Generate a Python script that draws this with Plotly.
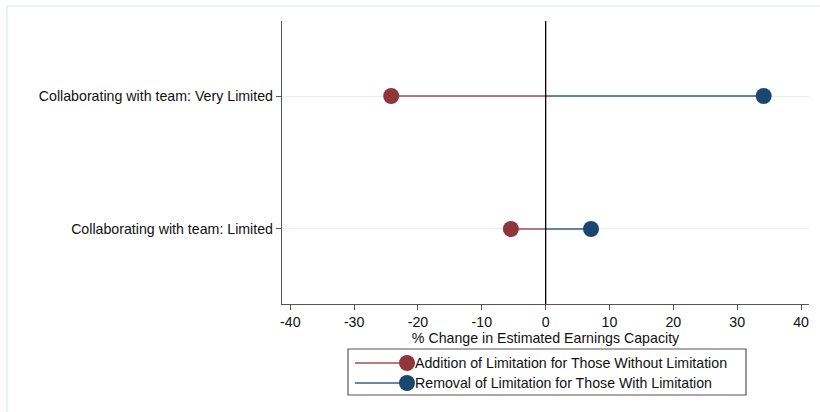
import plotly.graph_objects as go

categories = ["Collaborating with team: Limited", "Collaborating with team: Very Limited"]
addition_vals = [-5.45, -24.2]
removal_vals = [7.1, 34.15]
series_names = ["Addition of Limitation for Those Without Limitation",
                "Removal of Limitation for Those With Limitation"]
x_ticks = [-40, -30, -20, -10, 0, 10, 20, 30, 40]
x_ticktext = ["-40", "-30", "-20", "-10", "0", "10", "20", "30", "40"]

RED = "#90353B"
BLUE = "#1A476F"
RED_LINE = "rgba(144,53,59,0.65)"
BLUE_LINE = "rgba(26,71,111,0.65)"
FS = 14.2

ypos = list(range(1, len(categories) + 1))

fig = go.Figure()
for vals, lc, mc in [(addition_vals, RED_LINE, RED), (removal_vals, BLUE_LINE, BLUE)]:
    for y, v in zip(ypos, vals):
        fig.add_trace(go.Scatter(x=[0, v], y=[y, y], mode="lines",
                                 line=dict(color=lc, width=2), showlegend=False,
                                 hoverinfo="skip"))
for vals, mc, name in [(addition_vals, RED, series_names[0]), (removal_vals, BLUE, series_names[1])]:
    fig.add_trace(go.Scatter(x=vals, y=ypos, mode="markers", name=name,
                             marker=dict(color=mc, size=16, line=dict(width=0)),
                             showlegend=False))

# zero line
fig.add_shape(type="line", x0=0, x1=0, y0=0, y1=1, xref="x", yref="paper",
              line=dict(color="black", width=1.3))

# outer frame (partial, as in reference)
L, T, PW, PH = 282, 21, 527, 283
def px(x): return (x - L) / PW
def py(y): return (T + PH - y) / PH
fig.add_shape(type="line", xref="paper", yref="paper", x0=px(7), x1=px(822),
              y0=py(6), y1=py(6), line=dict(color="#E6EEF0", width=1.5))
fig.add_shape(type="line", xref="paper", yref="paper", x0=px(7), x1=px(7),
              y0=py(6), y1=py(414), line=dict(color="#E6EEF0", width=1.5))

# manual legend
fig.add_shape(type="rect", xref="paper", yref="paper", x0=px(348), x1=px(746),
              y0=py(395), y1=py(349), line=dict(color="#555555", width=1.2),
              fillcolor="white")
for i, (name, lc, mc) in enumerate([(series_names[0], RED_LINE, RED),
                                     (series_names[1], BLUE_LINE, BLUE)]):
    yy = 363 + 20 * i
    fig.add_shape(type="line", xref="paper", yref="paper", x0=px(355), x1=px(407),
                  y0=py(yy), y1=py(yy), line=dict(color=lc, width=2))
    fig.add_shape(type="circle", xref="paper", yref="paper", x0=px(399), x1=px(415),
                  y0=py(yy + 8), y1=py(yy - 8), line=dict(width=0), fillcolor=mc)
    fig.add_annotation(xref="paper", yref="paper", x=px(413), y=py(yy), text=name,
                       showarrow=False, xanchor="left", yanchor="middle",
                       font=dict(size=FS, color="#111111"))

fig.update_layout(
    width=820, height=412,
    margin=dict(l=L, r=820 - L - PW, t=T, b=412 - T - PH),
    paper_bgcolor="white", plot_bgcolor="white",
    font=dict(family="Liberation Sans, Arial, sans-serif", size=FS, color="#111111"),
    showlegend=False,
)
fig.update_xaxes(range=[-41.3, 41.25], tickvals=x_ticks, ticktext=x_ticktext,
                 ticks="outside", ticklen=5,
                 tickcolor="#555555", showline=True, linecolor="#555555", linewidth=1.3,
                 showgrid=False, zeroline=False, tickfont=dict(size=FS),
                 title=dict(text="% Change in Estimated Earnings Capacity",
                            font=dict(size=FS), standoff=0))
fig.update_yaxes(range=[0.436, 2.564], tickvals=ypos, ticktext=categories,
                 ticks="outside", ticklen=5, tickcolor="#555555", showline=True,
                 linecolor="#555555", linewidth=1.3, showgrid=True, gridcolor="#E8EEF0",
                 gridwidth=1.3, zeroline=False, tickfont=dict(size=FS))

fig.write_html("out.html")
